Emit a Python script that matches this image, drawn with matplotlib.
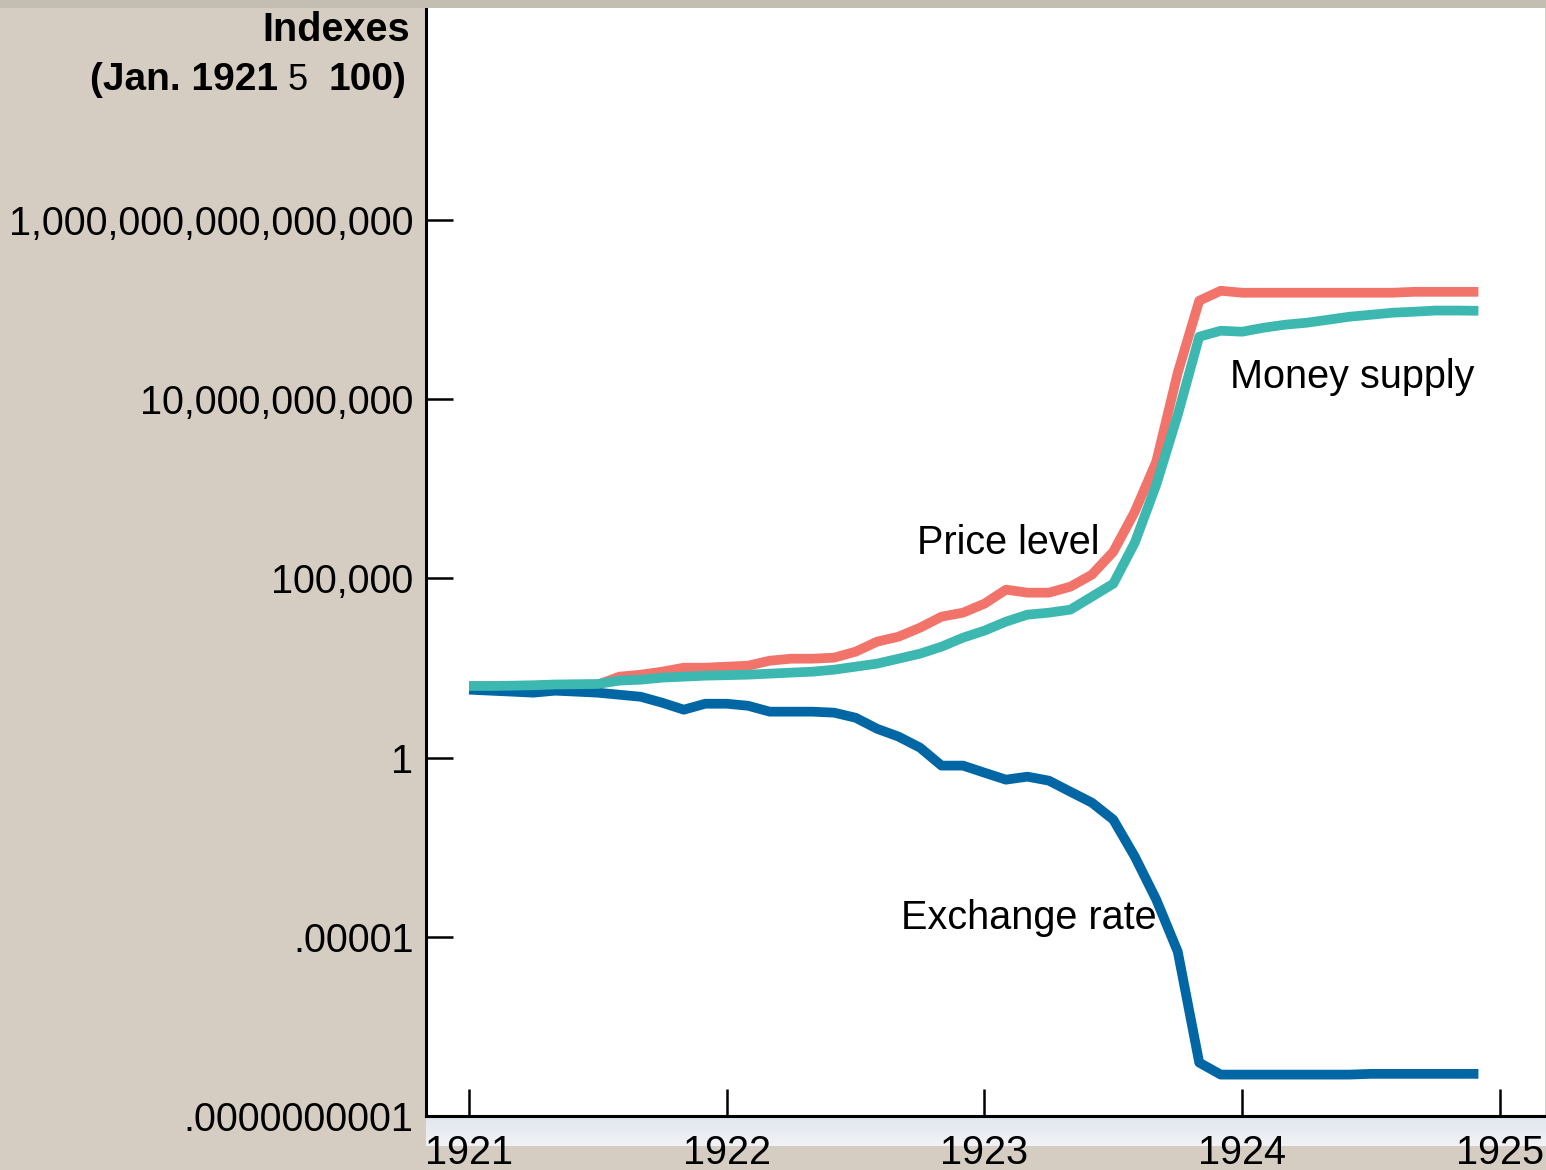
import numpy as np
import matplotlib
matplotlib.use("Agg")
import matplotlib.pyplot as plt

plt.rcParams['font.family'] = ['Liberation Sans', 'DejaVu Sans']

# monthly values, Jan 1921 .. Dec 1924 (index, Jan. 1921 = 100)
start_year = 1921
n_months = 48

price_level = [100, 100, 96, 90, 84, 90, 109, 182, 207, 251, 324, 324,
               346, 369, 508, 578, 578, 617, 908, 1726, 2377, 4236, 8590, 11120,
               19820, 48750, 40180, 40180, 59020, 127600, 560000, 7.31e6, 1.82e8, 5.52e10, 5.64e12, 1.07e13,
               9.42e12, 9.42e12, 9.42e12, 9.42e12, 9.42e12, 9.42e12, 9.42e12, 9.42e12, 1.0e13, 1.0e13, 1.0e13, 1.0e13]

money_supply = [100, 100, 102, 105, 110, 112, 114, 141, 150, 171, 182, 194,
                200, 207, 221, 236, 251, 285, 346, 420, 578, 798, 1250, 2230,
                3500, 6240, 9780, 11100, 13500, 31000, 71600, 1.0e6, 4.14e7, 3.72e9, 5.58e11, 8.2e11,
                7.7e11, 9.95e11, 1.21e12, 1.37e12, 1.66e12, 2.02e12, 2.29e12, 2.61e12, 2.78e12, 3.0e12, 3.0e12, 2.95e12]

exchange_rate = [79, 74, 69.5, 65, 74, 69.5, 65, 57, 50, 34, 21.8, 32,
                 32, 28, 19.2, 19.2, 19.2, 18, 13, 6.4, 3.86, 1.9, 0.6, 0.6,
                 0.38, 0.243, 0.295, 0.228, 0.112, 0.0555, 0.0186, 1.73e-3, 1.09e-4, 3.86e-6, 3.09e-9, 1.43e-9,
                 1.43e-9, 1.43e-9, 1.43e-9, 1.43e-9, 1.43e-9, 1.43e-9, 1.5e-9, 1.5e-9, 1.5e-9, 1.5e-9, 1.5e-9, 1.5e-9]

year_ticks = [1921, 1922, 1923, 1924, 1925]
y_ticks = [1e-10, 1e-5, 1, 1e5, 1e10, 1e15]
y_tick_labels = ['.0000000001', '.00001', '1', '100,000', '10,000,000,000', '1,000,000,000,000,000']

months = start_year + np.arange(n_months) / 12.0

W, H = 1546, 1170
fig = plt.figure(figsize=(W / 100, H / 100), dpi=100)
fig.patch.set_facecolor('#d5cdc2')

# top gray strip
fig.patches.append(plt.Rectangle((0, 1 - 8 / H), 1, 8 / H, transform=fig.transFigure,
                                 facecolor='#c3beb1', edgecolor='none', zorder=0))

# light band under the x axis
band = fig.add_axes([426 / W, (H - 1146) / H, (W - 426) / W, 28 / H])
grad = np.linspace(0, 1, 50).reshape(-1, 1)
band.imshow(grad, aspect='auto', cmap=matplotlib.colors.LinearSegmentedColormap.from_list(
    'b', ['#e2e6ee', '#f1f3f6']), extent=[0, 1, 0, 1])
band.set_axis_off()

ax = fig.add_axes([426 / W, (H - 1116) / H, 1119 / W, 1108 / H])
ax.set_facecolor('white')

lw = 7
ax.plot(months, price_level, color='#f1736a', lw=lw, solid_capstyle='butt', zorder=3)
ax.plot(months, money_supply, color='#3cb8b0', lw=lw, solid_capstyle='butt', zorder=4)
ax.plot(months, exchange_rate, color='#0066a4', lw=lw, solid_capstyle='butt', zorder=3)

ax.set_yscale('log')
ax.set_ylim(1e-10, 10 ** 20.92)
ax.set_xlim(1920.833, 1925.175)

ax.set_yticks(y_ticks)
ax.set_yticklabels(y_tick_labels)
ax.minorticks_off()
ax.set_xticks(year_ticks)
ax.set_xticklabels([str(y) for y in year_ticks])

ax.tick_params(axis='both', direction='in', length=19.5, width=1.8, colors='black',
               labelsize=28.5)
ax.tick_params(axis='y', pad=9)
ax.tick_params(axis='x', pad=13)
for lab in ax.get_yticklabels():
    lab.set_verticalalignment('center_baseline')

for s in ['top', 'right']:
    ax.spines[s].set_visible(False)
for s in ['left', 'bottom']:
    ax.spines[s].set_linewidth(2.2)
    ax.spines[s].set_color('black')

fs = 28.5
ax.text(1922.738, 4.9e5, 'Price level', fontsize=fs, ha='left', va='baseline')
ax.text(1923.952, 2.1e10, 'Money supply', fontsize=fs, ha='left', va='baseline')
ax.text(1923.669, 1.7e-5, 'Exchange rate', fontsize=fs, ha='right', va='baseline', zorder=5)

# axis title, top left
fig.text(410 / W, 1 - 41 / H, 'Indexes', fontsize=fs, fontweight='bold', ha='right', va='baseline')
fig.text(278 / W, 1 - 90 / H, '(Jan. 1921', fontsize=28, fontweight='bold', ha='right', va='baseline')
fig.text(308 / W, 1 - 90 / H, '5', fontsize=26, ha='right', va='baseline')
fig.text(406 / W, 1 - 90 / H, '100)', fontsize=28, fontweight='bold', ha='right', va='baseline')

fig.savefig('out.png', dpi=100, facecolor=fig.get_facecolor())
